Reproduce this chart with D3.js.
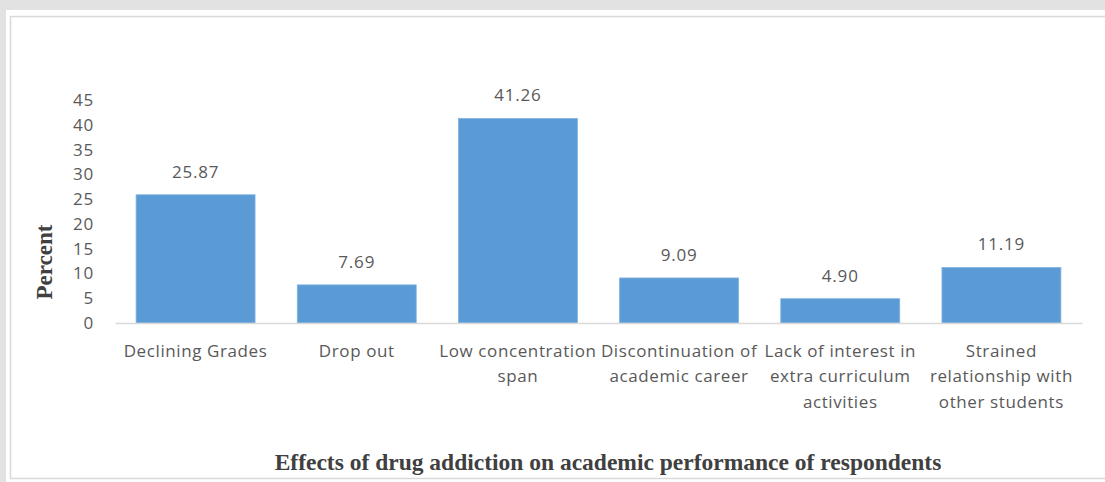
<!DOCTYPE html>
<html>
<head>
<meta charset="utf-8">
<script src="https://cdn.jsdelivr.net/npm/d3@7"></script>
<style>
  html, body { margin: 0; padding: 0; background: #e2e2e2; }
  svg { display: block; }
</style>
</head>
<body>
<svg id="chart" width="1105" height="482"></svg>
<script>
// Effects of drug addiction on academic performance (percent of respondents)
const categories = [
  "Declining Grades",
  "Drop out",
  "Low concentration span",
  "Discontinuation of academic career",
  "Lack of interest in extra curriculum activities",
  "Strained relationship with other students"
];
// Axis label lines for each category, as wrapped under the bars
const categoryLines = [
  ["Declining Grades"],
  ["Drop out"],
  ["Low concentration", "span"],
  ["Discontinuation of", "academic career"],
  ["Lack of interest in", "extra curriculum", "activities"],
  ["Strained", "relationship with", "other students"]
];
const percentValues = [25.87, 7.69, 41.26, 9.09, 4.90, 11.19];
const yTicks = [0, 5, 10, 15, 20, 25, 30, 35, 40, 45];
const xTitle = "Effects of drug addiction on academic performance of respondents";
const yTitle = "Percent";

const svg = d3.select("#chart");
const W = 1105, H = 482;

// page panel and chart frame
svg.append("rect").attr("x", 6).attr("y", 10).attr("width", W - 6).attr("height", H - 10).attr("fill", "#ffffff");
svg.append("rect").attr("x", 10.5).attr("y", 16.5).attr("width", W + 10).attr("height", 462)
  .attr("fill", "#ffffff").attr("stroke", "#d9d9d9").attr("stroke-width", 1.5);

const plot = { left: 115, right: 1082, top: 100, bottom: 323 };

const x = d3.scaleBand()
  .domain(categories)
  .range([plot.left, plot.right])
  .paddingInner(0.262)
  .paddingOuter(0.131);

const y = d3.scaleLinear()
  .domain([0, 45])
  .range([plot.bottom, plot.top]);

const textFont = "'Open Sans', sans-serif";
const textColor = "#595959";
const spacing = "0.6px";

// bars
svg.append("g").selectAll("rect")
  .data(percentValues)
  .join("rect")
  .attr("x", (d, i) => x(categories[i]))
  .attr("y", d => y(d))
  .attr("width", x.bandwidth())
  .attr("height", d => y(0) - y(d))
  .attr("fill", "#5b9bd5")
  .attr("stroke", "#7fb2e0")
  .attr("stroke-width", 0.8);

// value labels
svg.append("g").selectAll("text")
  .data(percentValues)
  .join("text")
  .attr("x", (d, i) => x(categories[i]) + x.bandwidth() / 2)
  .attr("y", d => y(d) - 23)
  .attr("dy", "0.35em")
  .attr("text-anchor", "middle")
  .attr("font-family", textFont)
  .attr("font-size", 17)
  .attr("letter-spacing", "0.8px")
  .attr("fill", textColor)
  .text(d => d.toFixed(2));

// y axis: labels only, no line or ticks
const yAxis = svg.append("g")
  .attr("transform", `translate(${plot.left - 21},0)`)
  .call(d3.axisLeft(y).tickValues(yTicks).tickSize(0).tickPadding(0).tickFormat(d3.format("d")));
yAxis.select(".domain").remove();
yAxis.selectAll("text")
  .attr("font-family", textFont)
  .attr("font-size", 17)
  .attr("letter-spacing", "0.8px")
  .attr("fill", textColor);

// x axis baseline
const xAxis = svg.append("g")
  .attr("transform", `translate(0,${plot.bottom})`)
  .call(d3.axisBottom(x).tickSize(0).tickFormat(""));
xAxis.select(".domain").attr("stroke", "#d9d9d9").attr("stroke-width", 1.5);

// category labels
const catG = svg.append("g");
categories.forEach((c, i) => {
  const t = catG.append("text")
    .attr("x", x(c) + x.bandwidth() / 2)
    .attr("y", 351)
    .attr("text-anchor", "middle")
    .attr("font-family", textFont)
    .attr("font-size", 17)
    .attr("letter-spacing", spacing)
    .attr("fill", textColor);
  categoryLines[i].forEach((line, k) => {
    t.append("tspan")
      .attr("x", x(c) + x.bandwidth() / 2)
      .attr("y", 351 + k * 25.5)
      .attr("dy", "0.35em")
      .text(line);
  });
});

// axis titles
svg.append("text")
  .attr("transform", "translate(44,262) rotate(-90)")
  .attr("dy", "0.35em")
  .attr("text-anchor", "middle")
  .attr("font-family", "'Liberation Serif', 'Times New Roman', serif")
  .attr("font-weight", "bold")
  .attr("font-size", 23)
  .attr("fill", "#404040")
  .text(yTitle);

svg.append("text")
  .attr("x", 608)
  .attr("y", 462)
  .attr("dy", "0.35em")
  .attr("text-anchor", "middle")
  .attr("font-family", "'Liberation Serif', 'Times New Roman', serif")
  .attr("font-weight", "bold")
  .attr("font-size", 23.5)
  .attr("fill", "#404040")
  .text(xTitle);
</script>
</body>
</html>
